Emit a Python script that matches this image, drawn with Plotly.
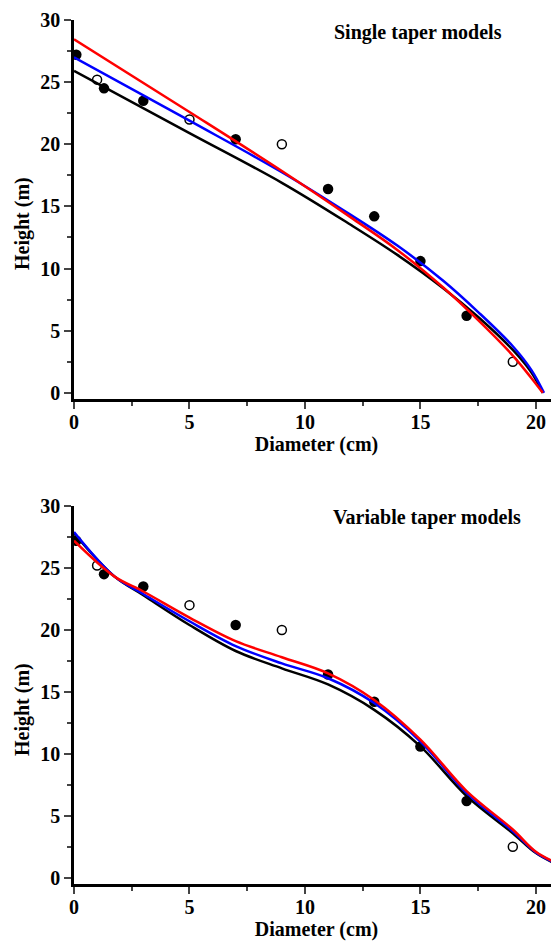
import plotly.graph_objects as go

# Observed data (same in both panels)
filled_d = [0.1, 1.3, 3, 7, 11, 13, 15, 17]
filled_h = [27.2, 24.5, 23.5, 20.4, 16.4, 14.2, 10.6, 6.2]
open_d = [1, 5, 9, 19]
open_h = [25.2, 22.0, 20.0, 2.5]

# Single taper model curves
s_black_d = [0, 5, 9, 12, 14, 16, 17.5, 19, 19.8, 20.3]
s_black_h = [25.9, 20.9, 16.9, 13.5, 11.1, 8.4, 6.1, 3.45, 1.65, 0]
s_blue_d = [0, 5, 9, 12, 14, 16, 17.5, 19, 19.8, 20.35]
s_blue_h = [27.0, 21.9, 17.75, 14.3, 11.85, 9.0, 6.5, 3.75, 1.85, 0]
s_red_d = [0, 5, 9, 12, 14, 16, 17.5, 19, 19.8, 20.3]
s_red_h = [28.45, 22.6, 17.85, 14.1, 11.5, 8.45, 5.85, 3.0, 1.2, 0]

# Variable taper model curves
v_black_d = [0, 1.76, 3, 5, 7, 9, 11, 13, 15, 17, 19, 20, 21]
v_black_h = [27.8, 24.3, 22.8, 20.4, 18.3, 16.9, 15.6, 13.55, 10.6, 6.6, 3.6, 2.0, 1.0]
v_blue_d = [0, 1.76, 3, 5, 7, 9, 11, 13, 15, 17, 19, 20, 21]
v_blue_h = [27.9, 24.3, 22.9, 20.7, 18.7, 17.3, 16.1, 14.1, 11.0, 6.85, 3.75, 2.05, 1.05]
v_red_d = [0, 1.76, 3, 5, 7, 9, 11, 13, 15, 17, 19, 20, 21]
v_red_h = [27.2, 24.3, 23.1, 21.0, 19.1, 17.8, 16.5, 14.35, 11.15, 7.0, 3.9, 2.1, 1.1]

x_ticks = [0, 5, 10, 15, 20]
y_ticks = [0, 5, 10, 15, 20, 25, 30]
titles = ["Single taper models", "Variable taper models"]

FONT = "Liberation Serif"


def bold_font(size=20):
    return dict(family=FONT, size=size, color="black", weight="bold")


fig = go.Figure()

panels = [
    ("x", "y", [(s_black_d, s_black_h, "black"), (s_blue_d, s_blue_h, "#0000FF"), (s_red_d, s_red_h, "#FF0000")]),
    ("x2", "y2", [(v_black_d, v_black_h, "black"), (v_blue_d, v_blue_h, "#0000FF"), (v_red_d, v_red_h, "#FF0000")]),
]

for xa, ya, curves in panels:
    fig.add_trace(go.Scatter(x=filled_d, y=filled_h, mode="markers", xaxis=xa, yaxis=ya,
                             marker=dict(color="black", size=10.5), showlegend=False))
    fig.add_trace(go.Scatter(x=open_d, y=open_h, mode="markers", xaxis=xa, yaxis=ya,
                             marker=dict(color="white", size=9, line=dict(color="black", width=1.5)),
                             showlegend=False))
    for d, h, c in curves:
        fig.add_trace(go.Scatter(x=d, y=h, mode="lines", xaxis=xa, yaxis=ya,
                                 line=dict(color=c, width=2.5, shape="spline", smoothing=1.0),
                                 showlegend=False))


def x_axis(anchor):
    return dict(range=[0, 21], tickvals=x_ticks, ticks="outside", ticklen=7, tickwidth=2,
                showline=True, linewidth=2.5, linecolor="black", showgrid=False, zeroline=False,
                tickfont=bold_font(), ticklabelstandoff=-4, domain=[0, 1], anchor=anchor,
                minor=dict(dtick=2.5, tick0=0, ticks="outside", ticklen=4, tickwidth=2, showgrid=False),
                title=dict(text="Diameter (cm)", font=bold_font(), standoff=2))


def y_axis(anchor, domain):
    return dict(range=[-0.5, 30], tickvals=y_ticks, ticks="outside", ticklen=7, tickwidth=2,
                showline=True, linewidth=2.5, linecolor="black", showgrid=False, zeroline=False,
                tickfont=bold_font(), domain=domain, anchor=anchor,
                minor=dict(dtick=2.5, tick0=0, ticks="outside", ticklen=4, tickwidth=2, showgrid=False))


# page body adds 8px offset; figure is sized to fill the rest of the window
W, H = 551, 933
fig.update_layout(
    width=W, height=H,
    margin=dict(l=66, r=0, t=12, b=57, autoexpand=False),
    paper_bgcolor="white", plot_bgcolor="white",
    font=bold_font(),
    xaxis=x_axis("y"),
    yaxis=y_axis("x", [0.5613, 1]),
    xaxis2=x_axis("y2"),
    yaxis2=y_axis("x2", [0, 0.4375]),
    annotations=[
        dict(text=titles[0], xref="paper", yref="paper", x=(418 - 74) / 485, y=1 - (33 - 20) / 864,
             showarrow=False, font=bold_font(), xanchor="center", yanchor="middle"),
        dict(text=titles[1], xref="paper", yref="paper", x=(427 - 74) / 485, y=1 - (518 - 20) / 864,
             showarrow=False, font=bold_font(), xanchor="center", yanchor="middle"),
        dict(text="Height (m)", xref="paper", yref="paper", x=(22 - 74) / 485, y=1 - (224 - 20) / 864,
             showarrow=False, textangle=-90, font=bold_font(), xanchor="center", yanchor="middle"),
        dict(text="Height (m)", xref="paper", yref="paper", x=(22 - 74) / 485, y=1 - (710 - 20) / 864,
             showarrow=False, textangle=-90, font=bold_font(), xanchor="center", yanchor="middle"),
    ],
)

fig.write_html("out.html")
